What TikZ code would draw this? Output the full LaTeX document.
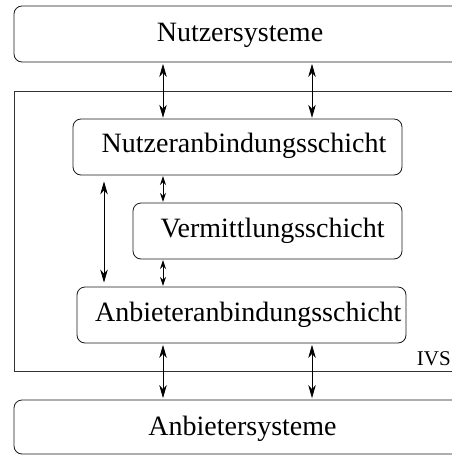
\documentclass[tikz,border=0pt]{standalone}
\usepackage{fontspec}
\setmainfont{Liberation Serif}
\usetikzlibrary{arrows.meta}
\begin{document}
\begin{tikzpicture}[x=1pt,y=-1pt,
  box/.style={draw=black!90, line width=0.8pt, rounded corners=8pt, inner sep=0pt},
  frame/.style={draw=black!80, line width=0.8pt, inner sep=0pt},
  txt/.style={font=\fontsize{28}{30}\selectfont, inner sep=0pt, anchor=base},
  bigarr/.style={line width=0.75pt, {Stealth[length=13pt,width=7.5pt,inset=4pt]}-{Stealth[length=13pt,width=7.5pt,inset=4pt]}},
  smallarr/.style={line width=0.75pt, {Stealth[length=9pt,width=6pt,inset=3pt]}-{Stealth[length=9pt,width=6pt,inset=3pt]}}]
\useasboundingbox (0,0) rectangle (452,455);
\clip (0,0) rectangle (452,455);
% outer boxes
\node[box, minimum width=456pt, minimum height=56pt] (nutz) at (242,34) {};
\node[frame, minimum width=456pt, minimum height=280pt] (ivs) at (242,231) {};
\node[box, minimum width=456pt, minimum height=54pt] (anb) at (242,427) {};
% inner boxes
\node[box, minimum width=329pt, minimum height=56pt] (nab) at (237.5,147) {};
\node[box, minimum width=269pt, minimum height=56pt] (ver) at (267.5,231) {};
\node[box, minimum width=329pt, minimum height=56pt] (aab) at (241.5,315) {};
% texts
\node[txt] (tnutz) at (240,41) {Nutzersysteme};
\node[txt] (tnab) at (244,152.7) {Nutzeranbindungsschicht};
\node[txt] (tver) at (272.5,237.7) {Vermittlungsschicht};
\node[txt] (taab) at (248.3,321) {Anbieteranbindungsschicht};
\node[txt] (tanb) at (242.5,435) {Anbietersysteme};
\node[font=\fontsize{21}{24}\selectfont, inner sep=0pt, anchor=base east] (tivs) at (451,365) {IVS};
% arrow columns
\coordinate (ca) at (163,0);
\coordinate (cb) at (312,0);
\coordinate (cl) at (104,0);
\draw[bigarr, shorten <=1.5pt, shorten >=0.8pt] (nutz.south -| ca) -- (nab.north -| ca);
\draw[bigarr, shorten <=1.5pt, shorten >=0.8pt] (nutz.south -| cb) -- (nab.north -| cb);
\draw[smallarr, shorten <=0.8pt, shorten >=0.8pt] (nab.south -| ca) -- (ver.north -| ca);
\draw[smallarr, shorten <=0.8pt, shorten >=0.8pt] (ver.south -| ca) -- (aab.north -| ca);
\draw[bigarr, shorten <=6pt, shorten >=4pt] (nab.south -| cl) -- (aab.north -| cl);
\draw[bigarr, shorten <=1.5pt, shorten >=1.5pt] (aab.south -| ca) -- (anb.north -| ca);
\draw[bigarr, shorten <=1.5pt, shorten >=1.5pt] (aab.south -| cb) -- (anb.north -| cb);
\end{tikzpicture}
\end{document}
